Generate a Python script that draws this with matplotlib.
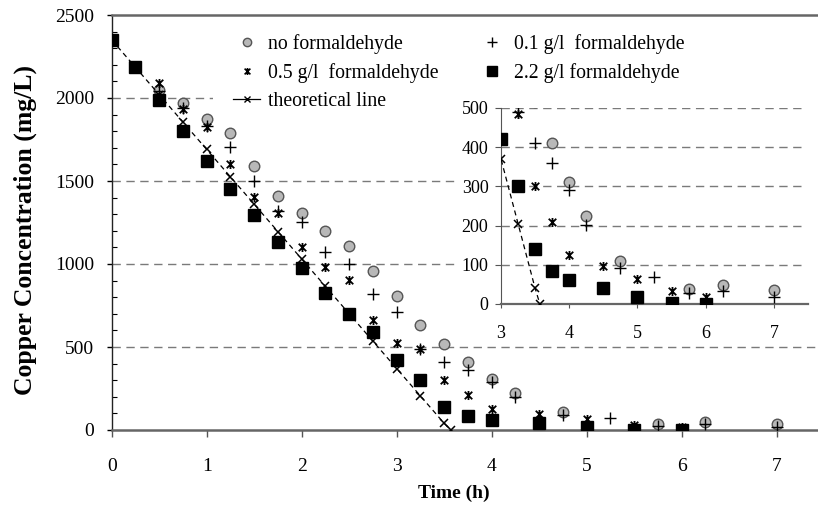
import matplotlib
matplotlib.use("Agg")
import matplotlib.pyplot as plt
from matplotlib.path import Path
from matplotlib.lines import Line2D
from matplotlib.patches import Rectangle

plt.rcParams['font.family'] = ['Liberation Serif', 'DejaVu Serif']

# ---------------- data ----------------
t_none = [0, 0.25, 0.5, 0.75, 1.0, 1.25, 1.5, 1.75, 2.0, 2.25, 2.5, 2.75, 3.0, 3.25, 3.5, 3.75, 4.0, 4.25, 4.75, 5.75, 6.25, 7.0]
c_none = [2350, 2185, 2050, 1967, 1872, 1789, 1592, 1411, 1309, 1201, 1110, 960, 809, 630, 516, 410, 310, 225, 110, 38, 48, 35]

t_01 = [0, 0.25, 0.5, 0.75, 1.0, 1.25, 1.5, 1.75, 2.0, 2.25, 2.5, 2.75, 3.0, 3.25, 3.5, 3.75, 4.0, 4.25, 4.75, 5.25, 5.75, 6.25, 7.0]
c_01 = [2350, 2185, 2040, 1940, 1830, 1707, 1500, 1320, 1255, 1072, 1000, 817, 713, 490, 410, 360, 291, 201, 91, 70, 27, 34, 19]

t_05 = [0, 0.25, 0.5, 0.75, 1.0, 1.25, 1.5, 1.75, 2.0, 2.25, 2.5, 2.75, 3.0, 3.25, 3.5, 3.75, 4.0, 4.5, 5.0, 5.5, 6.0]
c_05 = [2350, 2185, 2088, 1931, 1827, 1602, 1406, 1305, 1104, 984, 902, 660, 526, 485, 300, 209, 124, 98, 64, 32, 17]

t_22 = [0, 0.25, 0.5, 0.75, 1.0, 1.25, 1.5, 1.75, 2.0, 2.25, 2.5, 2.75, 3.0, 3.25, 3.5, 3.75, 4.0, 4.5, 5.0, 5.5, 6.0]
c_22 = [2350, 2185, 1990, 1801, 1620, 1450, 1295, 1134, 974, 823, 697, 588, 422, 300, 140, 85, 60, 42, 19, 2, 0]

t_theo = [0, 0.25, 0.5, 0.75, 1.0, 1.25, 1.5, 1.75, 2.0, 2.25, 2.5, 2.75, 3.0, 3.25, 3.5, 3.57]
c_theo = [2350, 2185, 2020, 1855, 1690, 1525, 1360, 1195, 1030, 865, 700, 535, 370, 205, 40, 0]

labels = ["no formaldehyde", "0.1 g/l  formaldehyde", "0.5 g/l  formaldehyde",
          "2.2 g/l formaldehyde", "theoretical line"]

main_xticks = [0, 1, 2, 3, 4, 5, 6, 7]
main_yticks = [0, 500, 1000, 1500, 2000, 2500]
inset_xticks = [3, 4, 5, 6, 7]
inset_yticks = [0, 100, 200, 300, 400, 500]

# asterisk marker: x with a vertical bar
ast = Path([(-1, -1), (1, 1), (-1, 1), (1, -1), (0, -1.2), (0, 1.2)],
           [Path.MOVETO, Path.LINETO, Path.MOVETO, Path.LINETO, Path.MOVETO, Path.LINETO])

W, H = 818, 507
fig = plt.figure(figsize=(W / 100, H / 100), dpi=100)

def fx(px):
    return px / W

def fy(py):
    return (H - py) / H

# main axes: x=0 at px 111.7, 95 px per hour; y=0 at py 430, 2500 at py 15
x0, xpx = 111.7, 95.0
ax = fig.add_axes([fx(x0), fy(430), 7.5 * xpx / W, (430 - 15) / H])
ax.set_xlim(0, 7.5)
ax.set_ylim(0, 2500)

grey = '#7a7a7a'

def draw(a, ms_scale=1.0):
    a.plot(t_none, c_none, ls='none', marker='o', ms=7.6 * ms_scale, mfc='#b8b8b8', mec='#555555', mew=1.0, zorder=3)
    a.plot(t_01, c_01, ls='none', marker='+', ms=8 * ms_scale, mec='black', mew=1.0, zorder=4)
    a.plot(t_05, c_05, ls='none', marker=ast, ms=6.5 * ms_scale, mec='black', mew=1.3, zorder=5)
    a.plot(t_22, c_22, ls='none', marker='s', ms=8 * ms_scale, mfc='black', mec='black', zorder=4.5)
    a.plot(t_theo, c_theo, ls=(0, (4, 3)), color='black', lw=0.9, marker='x', ms=6 * ms_scale,
           mew=1.1, zorder=6)

draw(ax)

for v in [500, 1000, 1500, 2000]:
    ax.axhline(v, color=grey, lw=1.0, ls=(0, (6, 4)), zorder=0.5)

ax.spines['right'].set_visible(False)
ax.spines['top'].set_color('#666666')
ax.spines['top'].set_linewidth(1.8)
ax.spines['bottom'].set_color('#666666')
ax.spines['bottom'].set_linewidth(1.8)
ax.spines['left'].set_color('#222222')
ax.spines['left'].set_linewidth(1.0)

ax.set_xticks(main_xticks)
ax.set_yticks(main_yticks)
ax.set_yticks(list(range(0, 2501, 100)), minor=True)
ax.tick_params(axis='x', direction='out', length=5, width=1, pad=15, labelsize=14, color='#555555')
ax.tick_params(axis='y', which='major', direction='out', length=3.5, width=1, pad=9, labelsize=14)
ax.tick_params(axis='y', which='minor', direction='in', length=3.5, width=0.8)
ax.tick_params(axis='x', which='minor', bottom=False)

ax.set_xlabel('Time (h)', fontsize=14, fontweight='bold')
ax.xaxis.set_label_coords((454 - x0) / (7.5 * xpx), (430 - 485) / 415)
ax.set_ylabel('Copper Concentration (mg/L)', fontsize=18.5, fontweight='bold')
ax.yaxis.set_label_coords((37 - x0) / (7.5 * xpx), (430 - 230) / 415)

# white background behind inset
ax.add_patch(Rectangle((fx(456), fy(338)), 1 - fx(456), fy(92) - fy(338),
                       transform=fig.transFigure, facecolor='white', edgecolor='none',
                       zorder=1, clip_on=False))

# legend
h_none = Line2D([], [], ls='none', marker='o', ms=6, mfc='#b8b8b8', mec='#555555')
h_01 = Line2D([], [], ls='none', marker='+', ms=7, mec='black')
h_05 = Line2D([], [], ls='none', marker=ast, ms=5, mec='black', mew=1.2)
h_22 = Line2D([], [], ls='none', marker='s', ms=7, mfc='black', mec='black')
h_theo = Line2D([], [], ls='-', color='black', lw=0.9, marker='x', ms=5, mew=1.0)
leg = ax.legend([h_none, h_05, h_theo, h_01, h_22],
                [labels[0], labels[2], labels[4], labels[1], labels[3]],
                ncol=2, loc='upper left', bbox_to_anchor=(fx(213), fy(14)),
                bbox_transform=fig.transFigure, fontsize=14.2, frameon=True,
                facecolor='white', edgecolor='none', framealpha=1, fancybox=False,
                borderpad=1.0, handlelength=1.4, handletextpad=0.4, columnspacing=2.0,
                labelspacing=0.47, borderaxespad=0)
leg.set_zorder(2.4)

# inset axes: x 3..7.5, y 0..500; x=3 at px 501, 0 at py 304, 500 at py 108
ins = fig.add_axes([fx(501), fy(304), (808 - 501) / W, (304 - 108) / H])
ins.set_xlim(3, 7.5)
ins.set_ylim(0, 500)
ins.patch.set_alpha(0)
draw(ins)
for v in [100, 200, 300, 400, 500]:
    ins.axhline(v, color=grey, lw=1.0, ls=(0, (6, 4)), zorder=0.5, xmax=0.985)
ins.spines['right'].set_visible(False)
ins.spines['top'].set_visible(False)
ins.spines['left'].set_color('#555555')
ins.spines['bottom'].set_color('#666666')
ins.spines['bottom'].set_linewidth(1.6)
ins.set_xticks(inset_xticks)
ins.set_yticks(inset_yticks)
ins.tick_params(axis='x', direction='out', length=3, pad=12, labelsize=13, color='#555555')
ins.tick_params(axis='y', direction='out', length=4, pad=5, labelsize=13, color='#555555')
ins.set_zorder(2)

fig.savefig('out.png', dpi=100)
